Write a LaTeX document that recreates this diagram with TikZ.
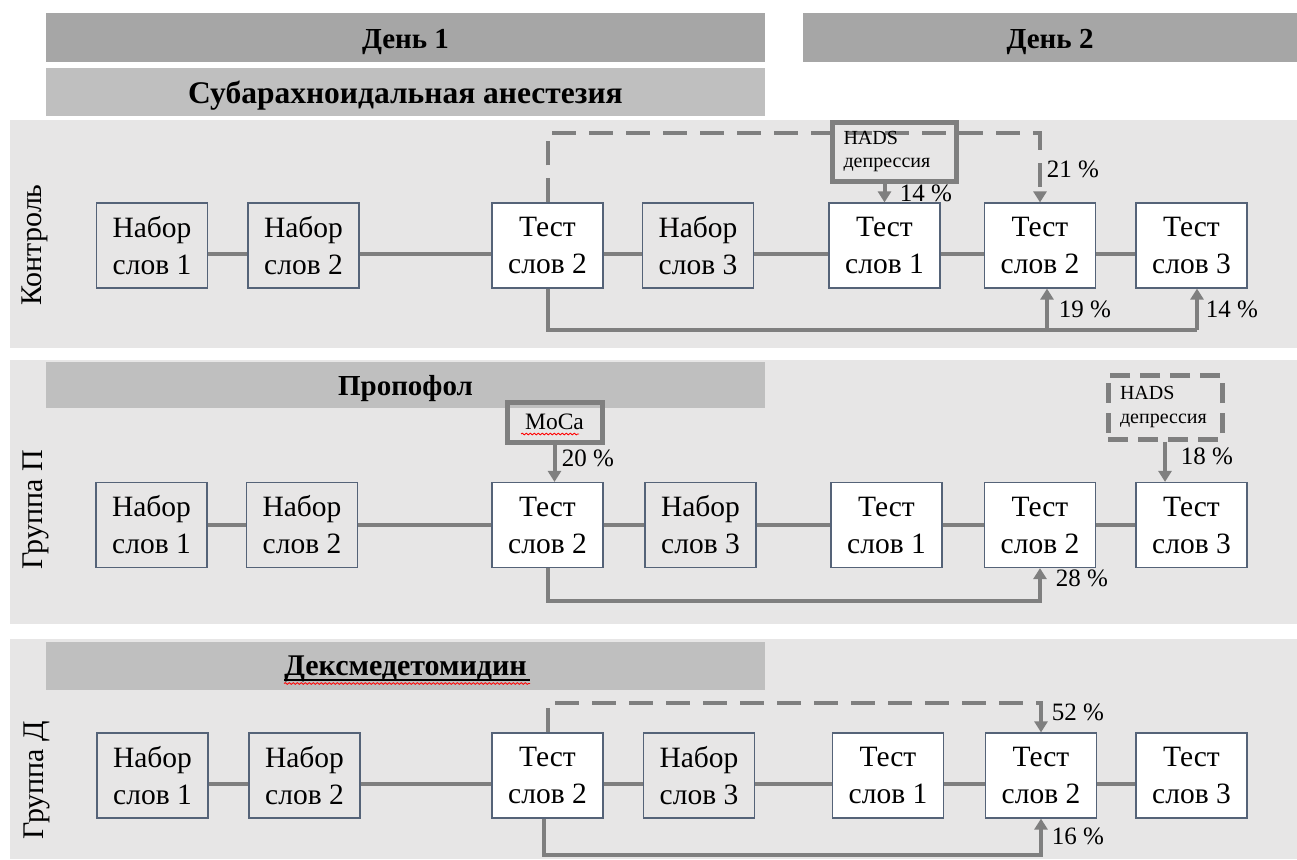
\documentclass[tikz,border=0pt]{standalone}
\usepackage{fontspec}
\setmainfont{Liberation Serif}
\usetikzlibrary{arrows.meta,decorations.pathmorphing}
\definecolor{panel}{HTML}{E7E6E6}
\definecolor{darkbar}{HTML}{A6A6A6}
\definecolor{lightbar}{HTML}{BFBFBF}
\definecolor{connc}{HTML}{7F7F7F}
\definecolor{boxline}{RGB}{85,99,120}
\tikzset{
  stepbox/.style={draw=boxline, line width=1.2pt, minimum width=111pt, minimum height=85pt,
    inner sep=0pt, align=center, font=\fontsize{29.5}{37}\selectfont},
  setbox/.style={stepbox},
  testbox/.style={stepbox, fill=white},
  bar/.style={inner sep=0pt, text height=22pt, text depth=0pt, font=\bfseries\fontsize{29}{35}\selectfont},
  panelbox/.style={fill=panel, inner sep=0pt, minimum width=1287pt},
  conn/.style={draw=connc, line width=4pt},
  dconn/.style={conn, dash pattern=on 24pt off 13pt},
  tip/.style={-{Triangle[width=13pt,length=11pt]}},
  pct/.style={inner sep=0pt, font=\fontsize{25}{30}\selectfont},
  glabel/.style={rotate=90, inner sep=0pt, font=\fontsize{30}{36}\selectfont},
  notebox/.style={draw=connc, line width=5pt, align=left, inner ysep=0pt,
    font=\fontsize{20}{23.5}\selectfont},
  wavy/.style={draw=red, line width=0.8pt, decorate,
    decoration={snake, amplitude=0.9pt, segment length=4pt}}
}
\begin{document}
\begin{tikzpicture}[x=1pt,y=-1pt]
\useasboundingbox (0,0) rectangle (1297,859);
% panels
\node[panelbox, minimum height=228pt] (P1) at (653.5,234) {};
\node[panelbox, minimum height=264pt] (P2) at (653.5,492) {};
\node[panelbox, minimum height=220pt] (P3) at (653.5,749) {};
% header bars
\node[bar, fill=darkbar, minimum width=719pt, minimum height=49pt] (D1) at (405.5,37.5) {День 1};
\node[bar, fill=darkbar, minimum width=494pt, minimum height=49pt] (D2) at (1050,37.5) {День 2};
\node[bar, fill=lightbar, minimum width=719pt, minimum height=48pt, font=\bfseries\fontsize{31.5}{36}\selectfont] (S1) at (405.5,92) {Субарахноидальная анестезия};
\node[bar, fill=lightbar, minimum width=719pt, minimum height=46pt, text height=20pt] (S2) at (405.5,385) {Пропофол};
\node[bar, fill=lightbar, minimum width=719pt, minimum height=48pt, text height=19pt, font=\bfseries\fontsize{30}{36}\selectfont] (S3) at (405.5,666) {Дексмедетомидин};
\draw[black, line width=1.4pt] (284,680) -- (530,680);
\draw[wavy] (284,683.5) -- (530,683.5);
% group labels
\node[glabel] (G1) at (35,245) {Контроль};
\node[glabel] (G2) at (36,510) {Группа П};
\node[glabel] (G3) at (37,780) {Группа Д};

% ---------- row 1 ----------
\node[setbox] (a1) at (152,245.5) {Набор\\слов 1};
\node[setbox] (a2) at (303.5,245.5) {Набор\\слов 2};
\node[testbox] (a3) at (547.5,245.5) {Тест\\слов 2};
\node[setbox] (a4) at (698,245.5) {Набор\\слов 3};
\node[testbox] (a5) at (884.5,245.5) {Тест\\слов 1};
\node[testbox] (a6) at (1040,245.5) {Тест\\слов 2};
\node[testbox] (a7) at (1191.5,245.5) {Тест\\слов 3};
\foreach \u/\v in {a1/a2,a2/a3,a3/a4,a4/a5,a5/a6,a6/a7}
  \draw[conn] ([yshift=-8pt]\u.east) -- ([yshift=-8pt]\v.west);
\coordinate (h1) at (0,133);
\draw[dconn,tip] (a3.north) |- (a6.north |- h1) -- (a6.north);
\node[notebox, minimum height=59pt, text width=101pt, inner xsep=11.5pt] (n1) at (894,151.5) {\raisebox{-3pt}{HADS}\\\raisebox{-3pt}{депрессия}};
\draw[conn,tip] (a5.north |- n1.south) -- (a5.north);
\node[pct] (p11) at (926,193) {14 \%};
\node[pct] (p12) at (1073,169) {21 \%};
\coordinate (b1) at (1197,330);
\draw[conn] (a3.south) |- (b1);
\draw[conn,tip] (b1) -- (b1 |- a7.south);
\coordinate (u1) at ([xshift=7pt]a6.south);
\draw[conn,tip] (u1 |- b1) -- (u1);
\node[pct] (p13) at (1085,309) {19 \%};
\node[pct] (p14) at (1232,309) {14 \%};

% ---------- row 2 ----------
\node[setbox] (b1n) at (151.5,525) {Набор\\слов 1};
\node[setbox] (b2n) at (302,525) {Набор\\слов 2};
\node[testbox] (b3n) at (547.5,525) {Тест\\слов 2};
\node[setbox] (b4n) at (700.5,525) {Набор\\слов 3};
\node[testbox] (b5n) at (886.5,525) {Тест\\слов 1};
\node[testbox] (b6n) at (1040,525) {Тест\\слов 2};
\node[testbox] (b7n) at (1191.5,525) {Тест\\слов 3};
\foreach \u/\v in {b1n/b2n,b2n/b3n,b3n/b4n,b4n/b5n,b5n/b6n,b6n/b7n}
  \draw[conn] (\u.east) -- (\v.west);
\node[notebox, minimum width=95pt, minimum height=40pt, inner xsep=0pt, align=center,
  font=\fontsize{23.5}{27}\selectfont] (m2) at (554.5,422) {MoCa};
\draw[wavy] (521,434) -- (579,434);
\draw[conn,tip] (m2.south) -- (m2.south |- b3n.north);
\node[pct] (p21) at (588,458) {20 \%};
\node[notebox, dash pattern=on 20pt off 10pt, minimum height=64pt, text width=90pt, inner xsep=12pt] (n2) at (1165,407) {HADS\\депрессия};
\draw[conn,tip] (n2.south) -- (n2.south |- b7n.north);
\node[pct] (p22) at (1207,456) {18 \%};
\coordinate (b2) at (0,601);
\draw[conn,tip] (b3n.south) |- (b6n.south |- b2) -- (b6n.south);
\node[pct] (p23) at (1082,578) {28 \%};

% ---------- row 3 ----------
\node[setbox] (c1) at (152.5,775.5) {Набор\\слов 1};
\node[setbox] (c2) at (304.5,775.5) {Набор\\слов 2};
\node[testbox] (c3) at (547.5,775.5) {Тест\\слов 2};
\node[setbox] (c4) at (699,775.5) {Набор\\слов 3};
\node[testbox] (c5) at (888,775.5) {Тест\\слов 1};
\node[testbox] (c6) at (1041,775.5) {Тест\\слов 2};
\node[testbox] (c7) at (1191.5,775.5) {Тест\\слов 3};
\foreach \u/\v in {c1/c2,c2/c3,c3/c4,c4/c5,c5/c6,c6/c7}
  \draw[conn] ([yshift=-8pt]\u.east) -- ([yshift=-8pt]\v.west);
\coordinate (h3) at (0,703);
\draw[dconn,tip] (c3.north) |- (c6.north |- h3) -- (c6.north);
\node[pct] (p31) at (1078,712) {52 \%};
\coordinate (b3) at (0,855);
\coordinate (s3) at ([xshift=-4pt]c3.south);
\draw[conn,tip] (s3) |- (c6.south |- b3) -- (c6.south);
\node[pct] (p32) at (1078,836) {16 \%};
\end{tikzpicture}
\end{document}
